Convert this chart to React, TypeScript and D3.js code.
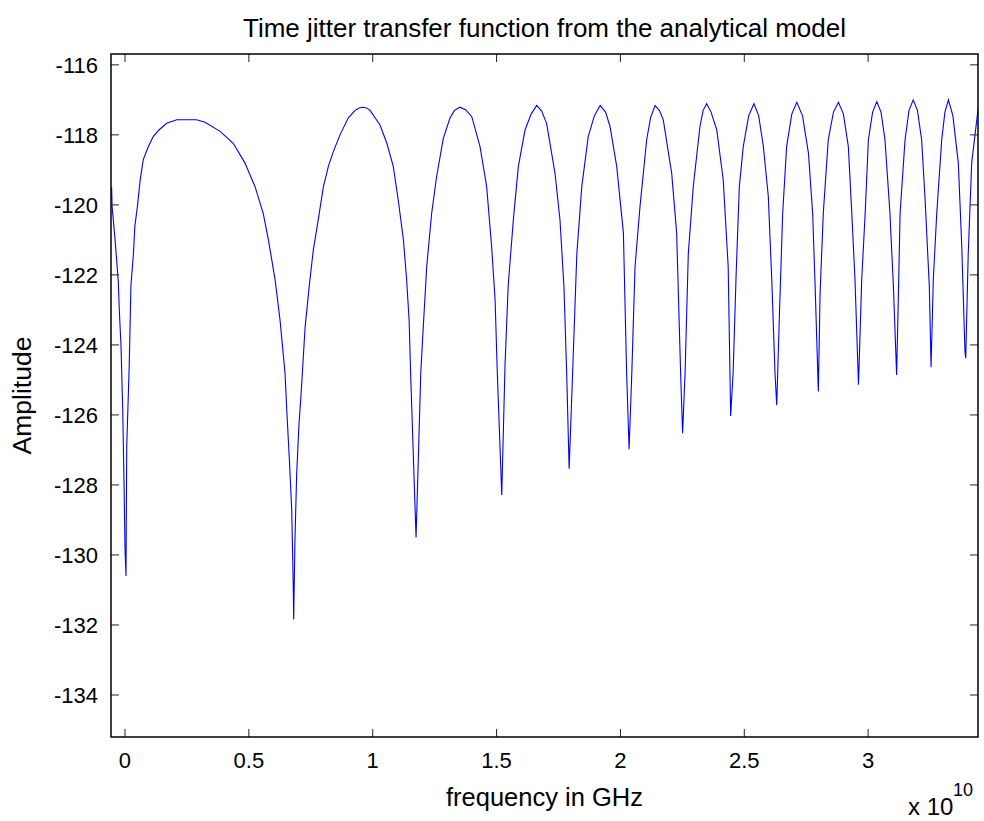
import React, { useMemo } from 'react';
import * as d3 from 'd3';

// frequency in units of 1e10 Hz (one row per lobe), amplitude
const freq = [
  -0.054, -0.052, -0.040, -0.027, -0.023, -0.016, -0.009, -0.004, 0.000, 0.004,
  0.007, 0.017, 0.024, 0.034, 0.040, 0.050, 0.061, 0.074, 0.094, 0.114,
  0.137, 0.168, 0.209, 0.289, 0.323, 0.384, 0.437, 0.484, 0.525, 0.558,
  0.579, 0.606, 0.626, 0.646, 0.653, 0.663, 0.673, 0.679, 0.681, 0.686,
  0.693, 0.702, 0.709, 0.716, 0.727, 0.744, 0.760, 0.780, 0.801, 0.821,
  0.841, 0.868, 0.901, 0.929, 0.945, 0.960, 0.975, 0.989, 1.029, 1.057, 1.083, 1.103,
  1.124, 1.137, 1.147, 1.153, 1.175, 1.194, 1.204, 1.218, 1.238, 1.258,
  1.285, 1.312, 1.330, 1.352, 1.375, 1.400, 1.433, 1.460, 1.480, 1.494, 1.503, 1.521,
  1.534, 1.547, 1.568, 1.588, 1.615, 1.640, 1.662, 1.682, 1.702, 1.736, 1.756, 1.772,
  1.783, 1.793, 1.807, 1.824, 1.844, 1.870, 1.895, 1.918, 1.940, 1.958, 1.985, 2.012,
  2.025, 2.035, 2.046, 2.059, 2.079, 2.106, 2.122, 2.140, 2.157, 2.173, 2.207, 2.227,
  2.243, 2.251, 2.261, 2.274, 2.294, 2.321, 2.334, 2.348, 2.366, 2.389, 2.415, 2.435,
  2.445, 2.455, 2.467, 2.480, 2.496, 2.518, 2.539, 2.558, 2.577, 2.597, 2.611, 2.624,
  2.631, 2.642, 2.655, 2.671, 2.692, 2.712, 2.735, 2.759, 2.776, 2.786, 2.799,
  2.806, 2.819, 2.839, 2.860, 2.880, 2.900, 2.920, 2.934, 2.947, 2.961,
  2.974, 2.988, 3.001, 3.018, 3.035, 3.052, 3.068, 3.088, 3.102, 3.115,
  3.123, 3.129, 3.149, 3.165, 3.182, 3.199, 3.216, 3.230, 3.247, 3.254,
  3.263, 3.277, 3.297, 3.310, 3.324, 3.342, 3.364, 3.378, 3.391, 3.394,
  3.404, 3.418, 3.445,
];

const amplitude = [
  -119.5, -120.05, -121.0, -122.2, -123.0, -124.05, -125.9, -127.9, -129.8, -130.6,
  -126.9, -124.6, -122.3, -121.4, -120.6, -120.05, -119.3, -118.7, -118.34, -118.05,
  -117.86, -117.67, -117.57, -117.57, -117.64, -117.9, -118.24, -118.8, -119.48, -120.24,
  -121.0, -122.14, -123.3, -124.8, -125.86, -127.2, -128.7, -130.8, -131.84, -129.6,
  -127.7, -126.3, -125.6, -124.8, -123.5, -122.3, -121.3, -120.43, -119.48, -118.9,
  -118.48, -118.0, -117.52, -117.3, -117.23, -117.21, -117.23, -117.3, -117.71, -118.24, -118.9, -119.86,
  -121.0, -122.14, -123.3, -124.8, -129.5, -124.8, -123.5, -121.76, -120.24, -119.19,
  -118.1, -117.52, -117.3, -117.21, -117.28, -117.48, -118.33, -119.48, -121.19, -122.7, -124.8, -128.29,
  -124.6, -122.3, -120.4, -118.9, -117.86, -117.4, -117.16, -117.32, -117.67, -119.1, -120.43, -122.33,
  -124.8, -127.54, -124.8, -121.4, -119.48, -118.05, -117.45, -117.16, -117.35, -117.76, -118.9, -120.8,
  -124.8, -126.98, -124.8, -121.76, -120.05, -118.14, -117.5, -117.16, -117.3, -117.57, -119.1, -120.8,
  -124.8, -126.52, -124.8, -121.4, -119.48, -117.76, -117.3, -117.11, -117.35, -117.86, -119.29, -121.76,
  -126.03, -124.8, -122.0, -119.48, -118.33, -117.45, -117.11, -117.45, -118.33, -119.76, -122.14, -124.8,
  -125.72, -123.1, -120.24, -118.33, -117.4, -117.07, -117.45, -118.52, -120.24, -122.33, -125.33,
  -122.52, -120.24, -118.14, -117.35, -117.07, -117.4, -118.33, -120.24, -122.14, -125.14,
  -122.14, -120.24, -118.14, -117.35, -117.05, -117.35, -118.14, -120.24, -122.33, -124.86,
  -122.3, -120.24, -118.14, -117.3, -117.0, -117.3, -118.14, -119.86, -122.33, -124.64,
  -122.14, -120.24, -118.14, -117.35, -117.0, -117.45, -118.8, -121.19, -124.2, -124.38,
  -121.4, -118.8, -117.19,
];

const xTicks = [0, 0.5, 1, 1.5, 2, 2.5, 3];
const xTickLabels = ['0', '0.5', '1', '1.5', '2', '2.5', '3'];
const yTicks = [-134, -132, -130, -128, -126, -124, -122, -120, -118, -116];

const W = 984;
const H = 821;
const box = { left: 111, top: 54, right: 978, bottom: 737 };
const font = 'Arial, "Liberation Sans", Helvetica, sans-serif';

const App = () => {
  const { x, y } = useMemo(() => {
    const xScale = d3.scaleLinear().domain([-0.0565, 3.4435]).range([box.left, box.right]);
    const yScale = d3.scaleLinear().domain([-135.2, -115.69]).range([box.bottom, box.top]);
    return { x: xScale, y: yScale };
  }, []);

  const path = useMemo(() => {
    const pts = freq.map((f, i) => [f, amplitude[i]] as [number, number]);
    return d3.line<[number, number]>().x(d => x(d[0])).y(d => y(d[1]))(pts) || '';
  }, [x, y]);

  const tickLen = 8;

  return (
    <div style={{ position: 'absolute', left: 0, top: 0 }}>
      <svg width={W} height={H} style={{ display: 'block', background: '#fff' }}>
        <defs>
          <clipPath id="plotclip">
            <rect x={box.left} y={box.top} width={box.right - box.left} height={box.bottom - box.top} />
          </clipPath>
        </defs>
        <rect x={0} y={0} width={W} height={H} fill="#fff" />

        <path d={path} fill="none" stroke="#0000ff" strokeWidth={1.1} clipPath="url(#plotclip)" />

        {/* ticks on all four sides, MATLAB style */}
        {xTicks.map(t => (
          <g key={'x' + t}>
            <line x1={x(t)} x2={x(t)} y1={box.bottom} y2={box.bottom - tickLen} stroke="#222" />
            <line x1={x(t)} x2={x(t)} y1={box.top} y2={box.top + tickLen} stroke="#222" />
          </g>
        ))}
        {yTicks.map(t => (
          <g key={'y' + t}>
            <line x1={box.left} x2={box.left + tickLen} y1={y(t)} y2={y(t)} stroke="#222" />
            <line x1={box.right} x2={box.right - tickLen} y1={y(t)} y2={y(t)} stroke="#222" />
          </g>
        ))}

        <rect x={box.left} y={box.top} width={box.right - box.left} height={box.bottom - box.top}
          fill="none" stroke="#000" strokeWidth={1.5} />

        <g fontFamily={font} fontSize={22} fill="#000">
          {xTicks.map((t, i) => (
            <text key={'xl' + t} x={x(t)} y={box.bottom + 31} textAnchor="middle">{xTickLabels[i]}</text>
          ))}
          {yTicks.map(t => (
            <text key={'yl' + t} x={box.left - 13} y={y(t) + 8} textAnchor="end">{t}</text>
          ))}
          <text x={(box.left + box.right) / 2} y={37} textAnchor="middle" fontSize={26}>
            Time jitter transfer function from the analytical model
          </text>
          <text x={(box.left + box.right) / 2} y={806} textAnchor="middle" fontSize={25.5}>frequency in GHz</text>
          <text transform={`translate(31,${(box.top + box.bottom) / 2}) rotate(-90)`} textAnchor="middle" fontSize={26.5}>
            Amplitude
          </text>
          <text x={908} y={815} fontSize={24}>x 10</text>
          <text x={953} y={796} fontSize={18}>10</text>
        </g>
      </svg>
    </div>
  );
};

export default App;
